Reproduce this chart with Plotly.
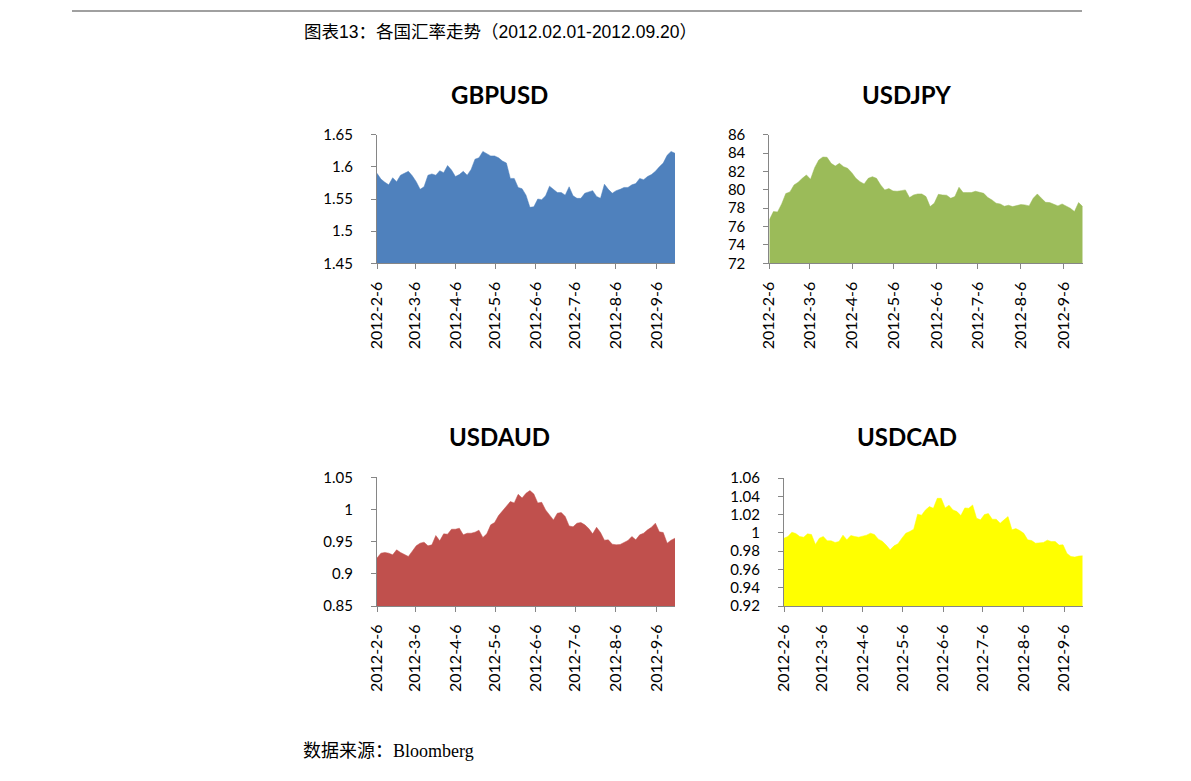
import pandas as pd
import plotly.graph_objects as go
from plotly.subplots import make_subplots

# ----------------------------------------
# DATA (roughly every 3 days)
# ----------------------------------------
START = "2012-02-06"
END = "2012-09-20"

GBPUSD = [1.590, 1.581, 1.576, 1.572, 1.583, 1.577, 1.587, 1.590, 1.593, 1.586,
          1.577, 1.565, 1.569, 1.587, 1.589, 1.587, 1.594, 1.591, 1.602, 1.595,
          1.585, 1.588, 1.593, 1.587, 1.596, 1.612, 1.614, 1.624, 1.621, 1.617,
          1.617, 1.614, 1.609, 1.606, 1.582, 1.582, 1.568, 1.566, 1.556, 1.537,
          1.538, 1.550, 1.549, 1.555, 1.570, 1.565, 1.560, 1.560, 1.556, 1.569,
          1.555, 1.551, 1.551, 1.559, 1.561, 1.563, 1.554, 1.551, 1.573, 1.565,
          1.559, 1.563, 1.565, 1.568, 1.568, 1.572, 1.574, 1.582, 1.580, 1.585,
          1.588, 1.593, 1.600, 1.606, 1.618, 1.624, 1.621]

USDJPY = [76.72, 77.63, 77.59, 78.46, 79.59, 79.77, 80.53, 80.82, 81.25, 81.62,
          81.14, 82.41, 83.25, 83.57, 83.54, 82.88, 82.59, 82.88, 82.52, 82.34,
          81.87, 81.25, 80.89, 80.64, 81.25, 81.43, 81.25, 80.53, 79.99, 80.13,
          79.88, 79.84, 79.91, 79.99, 79.15, 79.44, 79.55, 79.55, 79.26, 78.17,
          78.54, 79.51, 79.44, 79.41, 79.08, 79.26, 80.28, 79.70, 79.70, 79.70,
          79.84, 79.70, 79.62, 79.15, 78.90, 78.54, 78.46, 78.21, 78.32, 78.17,
          78.25, 78.39, 78.36, 78.25, 79.08, 79.55, 79.08, 78.64, 78.61, 78.46,
          78.25, 78.46, 78.25, 77.99, 77.63, 78.61, 78.17]

USDAUD = [0.9244, 0.9321, 0.9332, 0.9321, 0.9295, 0.9373, 0.9332, 0.9295, 0.9270, 0.9352,
          0.9435, 0.9476, 0.9492, 0.9435, 0.9450, 0.9595, 0.9513, 0.9621, 0.9616, 0.9693,
          0.9693, 0.9709, 0.9606, 0.9631, 0.9631, 0.9647, 0.9678, 0.9564, 0.9621, 0.9761,
          0.9797, 0.9905, 0.9983, 1.0045, 1.0123, 1.0102, 1.0236, 1.0179, 1.0252, 1.0293,
          1.0241, 1.0102, 1.0112, 0.9993, 0.9911, 0.9838, 0.9942, 0.9952, 0.9890, 0.9745,
          0.9730, 0.9787, 0.9797, 0.9761, 0.9704, 0.9621, 0.9724, 0.9642, 0.9523, 0.9528,
          0.9461, 0.9450, 0.9456, 0.9492, 0.9518, 0.9580, 0.9528, 0.9606, 0.9631, 0.9683,
          0.9724, 0.9787, 0.9652, 0.9642, 0.9476, 0.9523, 0.9554]

USDCAD = [0.9942, 0.9960, 1.0007, 0.9993, 0.9960, 0.9953, 0.9989, 0.9982, 0.9873, 0.9942,
          0.9960, 0.9913, 0.9913, 0.9895, 0.9905, 0.9975, 0.9924, 0.9971, 0.9960, 0.9953,
          0.9964, 0.9975, 0.9996, 0.9982, 0.9931, 0.9909, 0.9866, 0.9815, 0.9858, 0.9880,
          0.9942, 0.9996, 1.0015, 1.0040, 1.0204, 1.0193, 1.0251, 1.0287, 1.0269, 1.0378,
          1.0378, 1.0273, 1.0302, 1.0251, 1.0233, 1.0189, 1.0273, 1.0269, 1.0305, 1.0160,
          1.0142, 1.0200, 1.0211, 1.0149, 1.0149, 1.0105, 1.0142, 1.0178, 1.0033, 1.0047,
          1.0025, 0.9996, 0.9924, 0.9916, 0.9887, 0.9887, 0.9895, 0.9920, 0.9905, 0.9905,
          0.9866, 0.9869, 0.9775, 0.9742, 0.9735, 0.9746, 0.9749]

X_TICKS = ["2012-02-06", "2012-03-06", "2012-04-06", "2012-05-06",
           "2012-06-06", "2012-07-06", "2012-08-06", "2012-09-06"]
X_LABELS = ["2012-2-6", "2012-3-6", "2012-4-6", "2012-5-6",
            "2012-6-6", "2012-7-6", "2012-8-6", "2012-9-6"]

Y_GBP = [1.45, 1.5, 1.55, 1.6, 1.65]
Y_GBP_LABELS = ["1.45", "1.5", "1.55", "1.6", "1.65"]
Y_JPY = [72, 74, 76, 78, 80, 82, 84, 86]
Y_JPY_LABELS = ["72", "74", "76", "78", "80", "82", "84", "86"]
Y_AUD = [0.85, 0.9, 0.95, 1.0, 1.05]
Y_AUD_LABELS = ["0.85", "0.9", "0.95", "1", "1.05"]
Y_CAD = [0.92, 0.94, 0.96, 0.98, 1.0, 1.02, 1.04, 1.06]
Y_CAD_LABELS = ["0.92", "0.94", "0.96", "0.98", "1", "1.02", "1.04", "1.06"]

dates = pd.date_range(START, END, periods=len(GBPUSD))

# page has an 8px body margin, so work in page pixels and shift into the figure
OFF = 8
W, H = 1191 - OFF, 781 - OFF


def px_x(p):
    return (p - OFF) / W


def px_y(p):
    return 1 - (p - OFF) / H


# panel: (name, values, colour, row, col, y ticks, y labels, x span, y span, title x)
panels = [
    ("GBPUSD", GBPUSD, "#4F81BD", 1, 1, Y_GBP, Y_GBP_LABELS, (377, 675), (134.7, 263.3), 499),
    ("USDJPY", USDJPY, "#9BBB59", 1, 2, Y_JPY, Y_JPY_LABELS, (769.3, 1082.7), (134.7, 263.3), 907),
    ("USDAUD", USDAUD, "#C0504D", 2, 1, Y_AUD, Y_AUD_LABELS, (377, 675), (477.3, 606), 499.5),
    ("USDCAD", USDCAD, "#FFFF00", 2, 2, Y_CAD, Y_CAD_LABELS, (784, 1082.7), (478, 606), 906.5),
]

TICK_FONT = dict(family="Lato, Carlito, Calibri, sans-serif", size=15, color="#000000")
AXIS_GREY = "#868686"

fig = make_subplots(rows=2, cols=2)

for name, vals, color, r, c, yt, yl, xs, ys, tx in panels:
    fig.add_trace(
        go.Scatter(
            x=dates, y=vals, mode="lines", fill="tozeroy",
            line=dict(color=color, width=0.5), fillcolor=color,
            name=name, showlegend=False,
        ),
        row=r, col=c,
    )
    fig.update_xaxes(
        type="date", range=[START, END],
        domain=[px_x(xs[0]), px_x(xs[1])],
        tickmode="array", tickvals=X_TICKS, ticktext=X_LABELS, tickangle=-90,
        ticks="outside", ticklen=5, tickcolor=AXIS_GREY,
        showline=True, linecolor=AXIS_GREY, linewidth=1,
        showgrid=False, zeroline=False, automargin=False,
        tickfont=dict(TICK_FONT, size=16), ticklabelstandoff=6,
        row=r, col=c,
    )
    fig.update_yaxes(
        range=[yt[0], yt[-1]],
        domain=[px_y(ys[1]), px_y(ys[0])],
        tickmode="array", tickvals=yt, ticktext=yl,
        ticks="outside", ticklen=5, tickcolor=AXIS_GREY,
        showline=True, linecolor=AXIS_GREY, linewidth=1,
        showgrid=False, zeroline=False, automargin=False,
        tickfont=TICK_FONT, ticklabelstandoff=15,
        row=r, col=c,
    )
    title_y = 94 if r == 1 else 437
    fig.add_annotation(
        x=px_x(tx), y=px_y(title_y), xref="paper", yref="paper",
        text=f"<b>{name}</b>", showarrow=False,
        font=dict(family="Lato, Carlito, Calibri, sans-serif", size=24, color="#000000"),
        xanchor="center", yanchor="middle",
    )

# caption, source and top rule
fig.add_annotation(
    x=px_x(302), y=px_y(32), xref="paper", yref="paper",
    text="图表13：各国汇率走势（2012.02.01-2012.09.20）", showarrow=False,
    font=dict(family="Liberation Sans, Noto Sans CJK SC", size=17.5, color="#000000"),
    xanchor="left", yanchor="middle",
)
fig.add_annotation(
    x=px_x(301), y=px_y(749), xref="paper", yref="paper",
    text='数据来源：<span style="font-family:Liberation Serif">Bloomberg</span>',
    showarrow=False,
    font=dict(family="Noto Sans CJK SC", size=18, color="#000000"),
    xanchor="left", yanchor="middle",
)
fig.add_shape(
    type="line", xref="paper", yref="paper",
    x0=px_x(72), x1=px_x(1082), y0=px_y(11), y1=px_y(11),
    line=dict(color="#A0A0A0", width=2),
)

fig.update_layout(
    width=W, height=H, autosize=False,
    margin=dict(l=0, r=0, t=0, b=0, autoexpand=False),
    paper_bgcolor="#FFFFFF", plot_bgcolor="#FFFFFF",
)

fig.write_html("out.html")
